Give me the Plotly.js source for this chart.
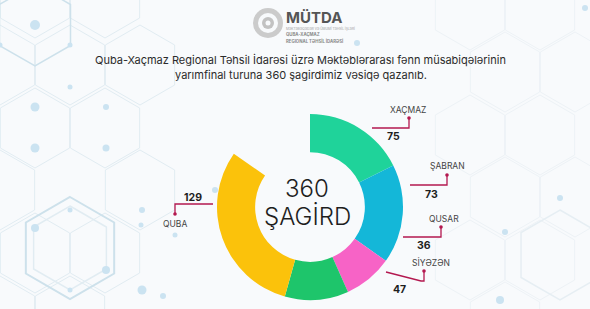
<!DOCTYPE html>
<html>
<head>
<meta charset="utf-8">
<script src="https://cdn.plot.ly/plotly-3.0.1.min.js"></script>
<style>html,body{margin:0;padding:0;background:#f8fafc;}#chart{width:590px;height:309px;}</style>
</head>
<body>
<div id="chart"></div>
<script>
// ---- data ----
const regions = ["XAÇMAZ", "ŞABRAN", "QUSAR", "SİYƏZƏN", "QUBA"];
const students = [75, 73, 36, 47, 129];
const totalStudents = 360;
const centerLines = ["360", "ŞAGİRD"];
const titleLines = [
  "Quba-Xaçmaz Regional Təhsil İdarəsi üzrə Məktəblərarası fənn müsabiqələrinin",
  "yarımfinal turuna 360 şagirdimiz vəsiqə qazanıb."
];
const logoLines = ["MÜTDA", "QUBA-XAÇMAZ", "REGIONAL TƏHSİL İDARƏSİ"];

// ---- styles / layout ----
const sliceColors = ["#1fd39a", "#14b7d8", "#f763c6", "#1ec56b", "#fbc20b"];
const W = 590, H = 309;
const gapDeg = 55; // open gap at top-left of the ring
const cx = 310, cy = 207, R = 93;
const px = x => x / W, py = y => 1 - y / H;
const accent = "#b3184f";

// label anchor layout
const labelPos = [
  {lab:[408,110], val:[393,137], line:[[372,128],[409,128],[409,118]]},
  {lab:[447,166], val:[431,194], line:[[410,185],[447,185],[447,175]]},
  {lab:[444,219], val:[424,245], line:[[403,237],[441,237],[441,227]]},
  {lab:[431,262], val:[399,289], line:[[386,272],[421,281],[424,281],[424,271]]},
  {lab:[175,224], val:[193,197], line:[[213,204],[175,204],[175,214]]}
];

const gapValue = totalStudents * gapDeg / (360 - gapDeg);
const pieVals = students.concat([gapValue]);
const pieColors = sliceColors.concat(["rgba(0,0,0,0)"]);

const trace = {
  type: "pie",
  values: pieVals,
  labels: regions.concat(["gap"]),
  marker: {colors: pieColors, line: {width: 0}},
  sort: false,
  direction: "clockwise",
  rotation: 0,
  hole: 0.59,
  textinfo: "none",
  hoverinfo: "none",
  showlegend: false,
  domain: {x: [px(cx - R), px(cx + R)], y: [1 - (cy + R) / H, 1 - (cy - R) / H]}
};

const shapes = [];
function hex(x, y, r, color, w) {
  let d = "";
  for (let i = 0; i < 6; i++) {
    const a = Math.PI / 180 * (60 * i - 90);
    const X = px(x + r * Math.cos(a)), Y = py(y + r * Math.sin(a));
    d += (i === 0 ? "M" : "L") + X + "," + Y;
  }
  d += "Z";
  shapes.push({type: "path", xref: "paper", yref: "paper", path: d, line: {color: color, width: w}, layer: "below"});
}
function dot(x, y, r, color) {
  shapes.push({type: "circle", xref: "paper", yref: "paper", x0: px(x - r), x1: px(x + r), y0: py(y + r), y1: py(y - r),
    fillcolor: color, line: {width: 0}, layer: "below"});
}
const hexLight = "#e1ecf2", hexMid = "#cde1eb";
[[35,-2],[105,-2],[0,65],[70,65],[140,65],[35,128],[105,128],[0,190],[140,190],[35,253],[105,253],[0,316],[70,316]].forEach(p => hex(p[0], p[1], 40, hexLight, 1));
hex(70, 248, 51, hexMid, 2);
hex(70, 248, 42, hexLight, 1.5);
hex(35, 25, 41, hexMid, 1.5);
[[470,10],[540,10],[505,72],[575,72],[470,135],[540,135],[505,197],[575,197],[470,260],[540,260],[505,322]].forEach(p => hex(p[0], p[1], 40, "#edf2f6", 1));
hex(560, 255, 45, "#e6eef3", 1.5);
[[35,25,5],[70,45,2.5],[0,45,2.5],[70,87,2.5],[35,107,4.5],[106,107,3],[35,148,4.5],[106,148,3.5],[70,210,2.5],[142,210,3],[35,228,4],[106,270,4],[141,225,2.5],[70,290,2.5],[142,290,4.5],[175,235,2.5],[215,190,3],[163,296,3],[505,232,3],[560,198,3],[500,300,4],[585,8,3],[357,43,3]].forEach(p => dot(p[0], p[1], p[2], "#cbe3f1"));

// logo rosette
dot(268, 23, 15, "#cbcbcb");
dot(268, 23, 10, "#f8fafc");
dot(268, 23, 6, "#c2c2c2");
dot(268, 23, 2.5, "#f8fafc");

// leader lines
labelPos.forEach(lp => {
  let d = "";
  lp.line.forEach((p, i) => { d += (i === 0 ? "M" : "L") + px(p[0]) + "," + py(p[1]); });
  shapes.push({type: "path", xref: "paper", yref: "paper", path: d, line: {color: accent, width: 1.3}});
  const e = lp.line[lp.line.length - 1];
  shapes.push({type: "circle", xref: "paper", yref: "paper", x0: px(e[0] - 1.8), x1: px(e[0] + 1.8), y0: py(e[1] + 1.8), y1: py(e[1] - 1.8),
    fillcolor: accent, line: {width: 0}});
});

const font = "Inter, 'Open Sans', sans-serif";
const annotations = [];
function txt(x, y, text, size, color, extra, fextra) {
  annotations.push(Object.assign({xref: "paper", yref: "paper", x: px(x), y: py(y), text: text, showarrow: false,
    xanchor: "center", yanchor: "middle", borderpad: 0,
    font: Object.assign({family: font, size: size, color: color}, fextra || {})}, extra || {}));
}
titleLines.forEach((t, i) => txt(301, 60 + i * 15, t, 11, "#2b2b2b"));
txt(285, 17, "<b>" + logoLines[0] + "</b>", 15, "#555555", {xanchor: "left"});
txt(285, 28, "MƏKTƏBƏQƏDƏR VƏ ÜMUMİ TƏHSİL İŞLƏRİ", 3.2, "#a0a0a0", {xanchor: "left"});
txt(285, 34, "<b>" + logoLines[1] + "</b>", 4.3, "#8a8a8a", {xanchor: "left"});
txt(285, 41, "<b>" + logoLines[2] + "</b>", 4.3, "#8a8a8a", {xanchor: "left"});
txt(307, 188, centerLines[0], 24, "#1e1e1e", {}, {weight: 300});
txt(307, 216, centerLines[1], 24, "#1e1e1e", {}, {weight: 300});
regions.forEach((r, i) => {
  const lp = labelPos[i];
  txt(lp.lab[0], lp.lab[1], r, 8.5, "#444");
  txt(lp.val[0], lp.val[1], "<b>" + students[i] + "</b>", 10.5, "#1e1e1e");
});

Plotly.newPlot("chart", [trace], {
  width: W, height: H,
  margin: {l: 0, r: 0, t: 0, b: 0},
  paper_bgcolor: "#f8fafc",
  plot_bgcolor: "#f8fafc",
  shapes: shapes,
  annotations: annotations
}, {displayModeBar: false, staticPlot: true});
</script>
</body>
</html>
